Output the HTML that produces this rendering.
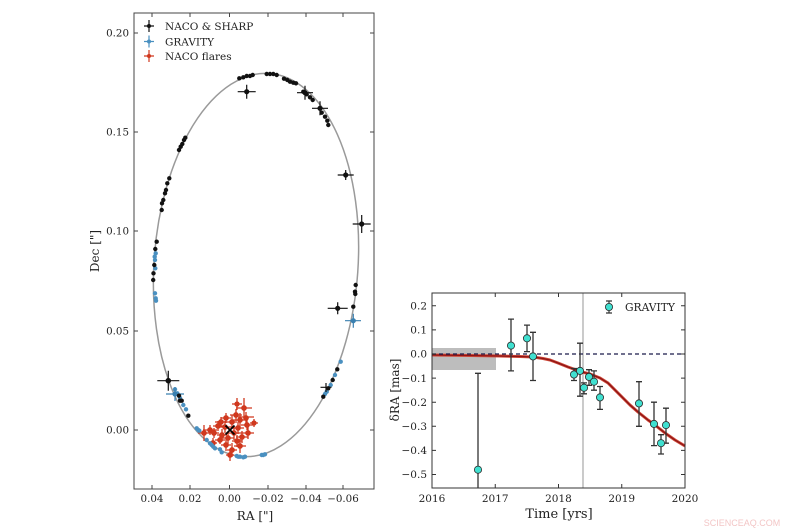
<!DOCTYPE html>
<html><head><meta charset="utf-8"><style>
html,body{margin:0;padding:0;background:#fff;}
svg{display:block;}
text{font-family:"DejaVu Serif","Liberation Serif",serif;fill:#222;}
</style></head><body>
<svg width="800" height="530" viewBox="0 0 800 530" xmlns="http://www.w3.org/2000/svg">
<rect width="800" height="530" fill="#fff"/>

<!-- LEFT PANEL -->
<g>
<ellipse cx="256" cy="265" rx="102" ry="192" transform="rotate(4 256 265)" fill="none" stroke="#9a9a9a" stroke-width="1.5"/>

<!-- flares -->
<g stroke="#d0381e" stroke-width="1.3" fill="#d0381e">
<path d="M236 408h16M244 398v20 M230 415h12M236 409v12 M221 418h10M226 413v10 M233 420h14M240 413v14 M215 422h12M221 417v10 M227 422h10M232 415v14 M213 426h10M218 421v10 M241 425h12M247 420v10 M218 427h14M225 421v12 M232 428h12M238 422v12 M203 430h14M210 425v10 M198 433h12M204 425v16 M209 433h10M214 428v10 M226 433h16M234 426v14 M242 433h12M248 427v12 M217 435h10M222 429v12 M236 437h12M242 431v12 M222 438h12M228 432v12 M232 441h10M237 435v12 M215 440h10M220 436v8 M221 445h10M226 439v12 M234 446h12M240 439v14 M227 450h10M232 443v14 M226 455h8M230 449v12 M209 443h8M213 438v10 M238 417h16M246 412v12 M250 423h8M254 419v8 M232 404h10M237 398v12"/>
<circle cx="244" cy="408" r="2.2"/><circle cx="236" cy="415" r="2.2"/><circle cx="226" cy="418" r="2.2"/><circle cx="240" cy="420" r="2.2"/><circle cx="221" cy="422" r="2.2"/><circle cx="232" cy="422" r="2.2"/><circle cx="218" cy="426" r="2.2"/><circle cx="247" cy="425" r="2.2"/><circle cx="225" cy="427" r="2.2"/><circle cx="238" cy="428" r="2.2"/><circle cx="210" cy="430" r="2.2"/><circle cx="204" cy="433" r="2.2"/><circle cx="214" cy="433" r="2.2"/><circle cx="234" cy="433" r="2.2"/><circle cx="248" cy="433" r="2.2"/><circle cx="222" cy="435" r="2.2"/><circle cx="242" cy="437" r="2.2"/><circle cx="228" cy="438" r="2.2"/><circle cx="237" cy="441" r="2.2"/><circle cx="220" cy="440" r="2.2"/><circle cx="226" cy="445" r="2.2"/><circle cx="240" cy="446" r="2.2"/><circle cx="232" cy="450" r="2.2"/><circle cx="230" cy="455" r="2.2"/><circle cx="213" cy="443" r="2.2"/><circle cx="246" cy="418" r="2.2"/><circle cx="254" cy="423" r="2"/><circle cx="237" cy="404" r="2"/>
</g>

<!-- gravity points (blue) -->
<g fill="#4a90c0">
<circle cx="155.7" cy="253.3" r="2.2"/><circle cx="154.7" cy="256.7" r="2.2"/><circle cx="155" cy="260" r="2.2"/><circle cx="155.3" cy="268.3" r="2.2"/><circle cx="155" cy="293.3" r="2.2"/><circle cx="155.7" cy="298.3" r="2.2"/><circle cx="156" cy="300.7" r="2.2"/>
<circle cx="175" cy="389.3" r="2.2"/><circle cx="177.3" cy="393.3" r="2.2"/><circle cx="180" cy="398" r="2.2"/><circle cx="183.3" cy="405" r="2.2"/><circle cx="186" cy="409.3" r="2.2"/>
<circle cx="196.7" cy="428.3" r="2.2"/><circle cx="198.3" cy="430" r="2.2"/><circle cx="199.3" cy="430.7" r="2.2"/><circle cx="206.7" cy="440" r="2.2"/><circle cx="210" cy="443.3" r="2.2"/><circle cx="211.7" cy="445" r="2.2"/><circle cx="213.3" cy="446.7" r="2.2"/><circle cx="215" cy="448.3" r="2.2"/><circle cx="220" cy="449.3" r="2.2"/><circle cx="221.7" cy="452.3" r="2.2"/><circle cx="236.7" cy="456" r="2.2"/><circle cx="238.3" cy="456.7" r="2.2"/><circle cx="240" cy="456.7" r="2.2"/><circle cx="243.3" cy="457.3" r="2.2"/><circle cx="245" cy="456.7" r="2.2"/><circle cx="261.7" cy="455" r="2.2"/><circle cx="263.3" cy="455" r="2.2"/><circle cx="265" cy="454.3" r="2.2"/>
<circle cx="340.7" cy="361.7" r="2.2"/><circle cx="335" cy="375" r="2.2"/><circle cx="330.7" cy="385" r="2.2"/><circle cx="326.7" cy="391.7" r="2.2"/><circle cx="325" cy="394" r="2.2"/>
</g>
<g stroke="#3a80b0" stroke-width="1.2" fill="#3a80b0">
<path d="M166 394h18M175 387v14 M345 320.7h16M353.3 313.7v14"/>
<circle cx="175" cy="394" r="2"/><circle cx="353.3" cy="320.7" r="2"/>
</g>

<!-- black NACO points -->
<g fill="#111">
<circle cx="239.3" cy="78.3" r="2.2"/><circle cx="243.3" cy="77.3" r="2.2"/><circle cx="246.7" cy="76" r="2.2"/><circle cx="250" cy="76" r="2.2"/><circle cx="252.7" cy="75" r="2.2"/><circle cx="266.7" cy="74" r="2.2"/><circle cx="270" cy="74" r="2.2"/><circle cx="273.3" cy="74" r="2.2"/><circle cx="276.7" cy="75" r="2.2"/><circle cx="284" cy="78.7" r="2.2"/><circle cx="287.3" cy="80" r="2.2"/><circle cx="290" cy="81.7" r="2.2"/><circle cx="293.3" cy="82.7" r="2.2"/><circle cx="296" cy="83.3" r="2.2"/><circle cx="303.3" cy="91.7" r="2.2"/><circle cx="306.7" cy="94.3" r="2.2"/><circle cx="310" cy="97.3" r="2.2"/><circle cx="312.7" cy="100" r="2.2"/><circle cx="321.7" cy="112.7" r="2.2"/><circle cx="325" cy="116.7" r="2.2"/><circle cx="327.3" cy="120.7" r="2.2"/><circle cx="328.3" cy="125" r="2.2"/>
<circle cx="179" cy="150" r="2.2"/><circle cx="180.7" cy="146.7" r="2.2"/><circle cx="182.3" cy="144" r="2.2"/><circle cx="184" cy="140" r="2.2"/><circle cx="185.3" cy="137.7" r="2.2"/>
<circle cx="169.3" cy="178.3" r="2.2"/><circle cx="167.3" cy="183.3" r="2.2"/><circle cx="166" cy="190" r="2.2"/><circle cx="165" cy="193.3" r="2.2"/><circle cx="163.3" cy="200" r="2.2"/><circle cx="162" cy="203.3" r="2.2"/><circle cx="161.7" cy="210" r="2.2"/><circle cx="156.7" cy="241.7" r="2.2"/><circle cx="155.3" cy="249" r="2.2"/><circle cx="154.3" cy="265" r="2.2"/><circle cx="153.5" cy="273.3" r="2.2"/><circle cx="153.2" cy="280" r="2.2"/>
<circle cx="179" cy="395.7" r="2.2"/><circle cx="180" cy="400.7" r="2.2"/><circle cx="181.7" cy="400.7" r="2.2"/><circle cx="188.3" cy="415.7" r="2.2"/>
<circle cx="355.7" cy="285" r="2.2"/><circle cx="355" cy="291.7" r="2.2"/><circle cx="355.3" cy="294" r="2.2"/><circle cx="353.3" cy="306.7" r="2.2"/>
<circle cx="337.3" cy="369.3" r="2.2"/><circle cx="332.7" cy="380" r="2.2"/><circle cx="328.3" cy="388.3" r="2.2"/><circle cx="323.3" cy="396.7" r="2.2"/>
</g>
<g stroke="#111" stroke-width="1.2" fill="#111">
<path d="M237.7 91.7h18M246.7 84.7v14 M297 92.7h16M305 85.7v14 M312 108.3h16M320 101.3v14 M337.7 175h16M345.7 170v10 M352.7 224h18M361.7 215v18 M157.3 380.7h22M168.3 370.7v20 M327.7 308.3h20M337.7 302.3v12 M320.5 387.3h11M326 383v9"/>
<circle cx="246.7" cy="91.7" r="2"/><circle cx="305" cy="92.7" r="2"/><circle cx="320" cy="108.3" r="2"/><circle cx="345.7" cy="175" r="2"/><circle cx="361.7" cy="224" r="2"/><circle cx="168.3" cy="380.7" r="2.2"/><circle cx="337.7" cy="308.3" r="2"/>
</g>
<path d="M225.5 425.5l9 9M234.5 425.5l-9 9" stroke="#000" stroke-width="1.8"/>

<rect x="134" y="13" width="240" height="476" fill="none" stroke="#444" stroke-width="1"/>
<g stroke="#444" stroke-width="1">
<path d="M152 489v-4M190 489v-4M229.5 489v-4M268 489v-4M306 489v-4M343 489v-4 M152 13v4M190 13v4M229.5 13v4M268 13v4M306 13v4M343 13v4 M134 33h4M134 132h4M134 231h4M134 331h4M134 430h4 M374 33h-4M374 132h-4M374 231h-4M374 331h-4M374 430h-4"/>
</g>
<g font-size="10.3" text-anchor="end">
<text x="129" y="36.5">0.20</text><text x="129" y="135.5">0.15</text><text x="129" y="234.5">0.10</text><text x="129" y="334.5">0.05</text><text x="129" y="433.5">0.00</text>
</g>
<g font-size="10.3" text-anchor="middle">
<text x="152" y="502">0.04</text><text x="190" y="502">0.02</text><text x="229.5" y="502">0.00</text><text x="268" y="502">−0.02</text><text x="306" y="502">−0.04</text><text x="343" y="502">−0.06</text>
</g>
<text x="255" y="520" font-size="12" text-anchor="middle">RA ["]</text>
<text transform="translate(99 251) rotate(-90)" font-size="12" text-anchor="middle">Dec ["]</text>

<g stroke-width="1.2">
<path d="M144 26h10M149 20v12" stroke="#111"/><circle cx="149" cy="26" r="2" fill="#111"/>
<path d="M144 41.5h10M149 35.5v12" stroke="#4a90c0"/><circle cx="149" cy="41.5" r="2" fill="#4a90c0"/>
<path d="M144 56h10M149 50v12" stroke="#d0381e"/><circle cx="149" cy="56" r="2" fill="#d0381e"/>
</g>
<g font-size="10.5">
<text x="165" y="30">NACO &amp; SHARP</text>
<text x="165" y="45.5">GRAVITY</text>
<text x="165" y="60">NACO flares</text>
</g>
</g>

<!-- RIGHT PANEL -->
<g>
<rect x="432" y="348" width="64" height="22" fill="#bdbdbd"/>
<line x1="583" y1="293" x2="583" y2="488" stroke="#a8a8a8" stroke-width="1.2"/>
<polyline fill="none" stroke="#d04a3a" stroke-width="3" stroke-linejoin="round" points="432,355 470,355.5 500,356 520,356.5 533,357 543,358.5 550,360 558,363 568,367 582,372 590,374 595,376 600,378 608,383 615,390 622,397 630,405 638,412 648,420 655,425 665,433 675,440 685,446"/>
<polyline fill="none" stroke="#8e1414" stroke-width="1.3" stroke-linejoin="round" points="432,355 470,355.5 500,356 520,356.5 533,357 543,358.5 550,360 558,363 568,367 582,372 590,374 595,376 600,378 608,383 615,390 622,397 630,405 638,412 648,420 655,425 665,433 675,440 685,446"/>
<line x1="432" y1="354" x2="685" y2="354" stroke="#1a1a4a" stroke-width="1.2" stroke-dasharray="4,3"/>

<g stroke="#333" stroke-width="1.3">
<path d="M478 373.3V488 M475 373.3h6
M511 319.1V370.9 M508 319.1h6M508 370.9h6
M527 325.1V351.6 M524 325.1h6M524 351.6h6
M533 332.3V380.5 M530 332.3h6M530 380.5h6
M574 368.5V380.5 M571 368.5h6M571 380.5h6
M580 343.2V396.2 M577 343.2h6M577 396.2h6
M584 382.9V393.8 M581 382.9h6M581 393.8h6
M589 369.7V385.3 M586 369.7h6M586 385.3h6
M594 370.9V390.2 M591 370.9h6M591 390.2h6
M600 386.5V409.4 M597 386.5h6M597 409.4h6
M639 381.7V426.3 M636 381.7h6M636 426.3h6
M654 402.2V445.6 M651 402.2h6M651 445.6h6
M661 434.7V454 M658 434.7h6M658 454h6
M666 408.2V443.2 M663 408.2h6M663 443.2h6"/>
</g>
<g fill="#40e0d0" stroke="#2a2a2a" stroke-width="0.8">
<circle cx="478" cy="469.7" r="3.6"/><circle cx="511" cy="345.6" r="3.6"/><circle cx="527" cy="338.3" r="3.6"/><circle cx="533" cy="356.4" r="3.6"/><circle cx="574" cy="374.5" r="3.6"/><circle cx="580" cy="370.9" r="3.6"/><circle cx="584" cy="387.7" r="3.6"/><circle cx="589" cy="376.9" r="3.6"/><circle cx="594" cy="381.7" r="3.6"/><circle cx="600" cy="397.4" r="3.6"/><circle cx="639" cy="403.4" r="3.6"/><circle cx="654" cy="423.9" r="3.6"/><circle cx="661" cy="443.2" r="3.6"/><circle cx="666" cy="425.1" r="3.6"/>
</g>

<rect x="432" y="293" width="253" height="195" fill="none" stroke="#333" stroke-width="1"/>
<g stroke="#333" stroke-width="1">
<path d="M495.25 488v-4M558.5 488v-4M621.75 488v-4 M495.25 293v4M558.5 293v4M621.75 293v4
M432 305.8h4M432 329.9h4M432 354h4M432 378.1h4M432 402.2h4M432 426.3h4M432 450.4h4M432 474.5h4
M685 305.8h-4M685 329.9h-4M685 354h-4M685 378.1h-4M685 402.2h-4M685 426.3h-4M685 450.4h-4M685 474.5h-4"/>
</g>
<g font-size="10.5" text-anchor="end">
<text x="427" y="309.5">0.2</text><text x="427" y="333.6">0.1</text><text x="427" y="357.7">0.0</text><text x="427" y="381.8">−0.1</text><text x="427" y="405.9">−0.2</text><text x="427" y="430">−0.3</text><text x="427" y="454.1">−0.4</text><text x="427" y="478.2">−0.5</text>
</g>
<g font-size="10.5" text-anchor="middle">
<text x="432" y="502">2016</text><text x="495.25" y="502">2017</text><text x="558.5" y="502">2018</text><text x="621.75" y="502">2019</text><text x="685" y="502">2020</text>
</g>
<text x="559" y="518" font-size="13" text-anchor="middle">Time [yrs]</text>
<text transform="translate(399 390) rotate(-90)" font-size="12" text-anchor="middle">δRA [mas]</text>

<path d="M609 301v12 M606 301h6M606 313h6" stroke="#333" stroke-width="1.2"/>
<circle cx="609" cy="307" r="3.6" fill="#40e0d0" stroke="#2a2a2a" stroke-width="0.8"/>
<text x="625" y="311" font-size="10.7">GRAVITY</text>
</g>

<text x="742" y="526" font-size="9" text-anchor="middle" style="font-family:'Liberation Sans',sans-serif;fill:#f3c6c6">SCIENCEAQ.COM</text>
</svg>
</body></html>
